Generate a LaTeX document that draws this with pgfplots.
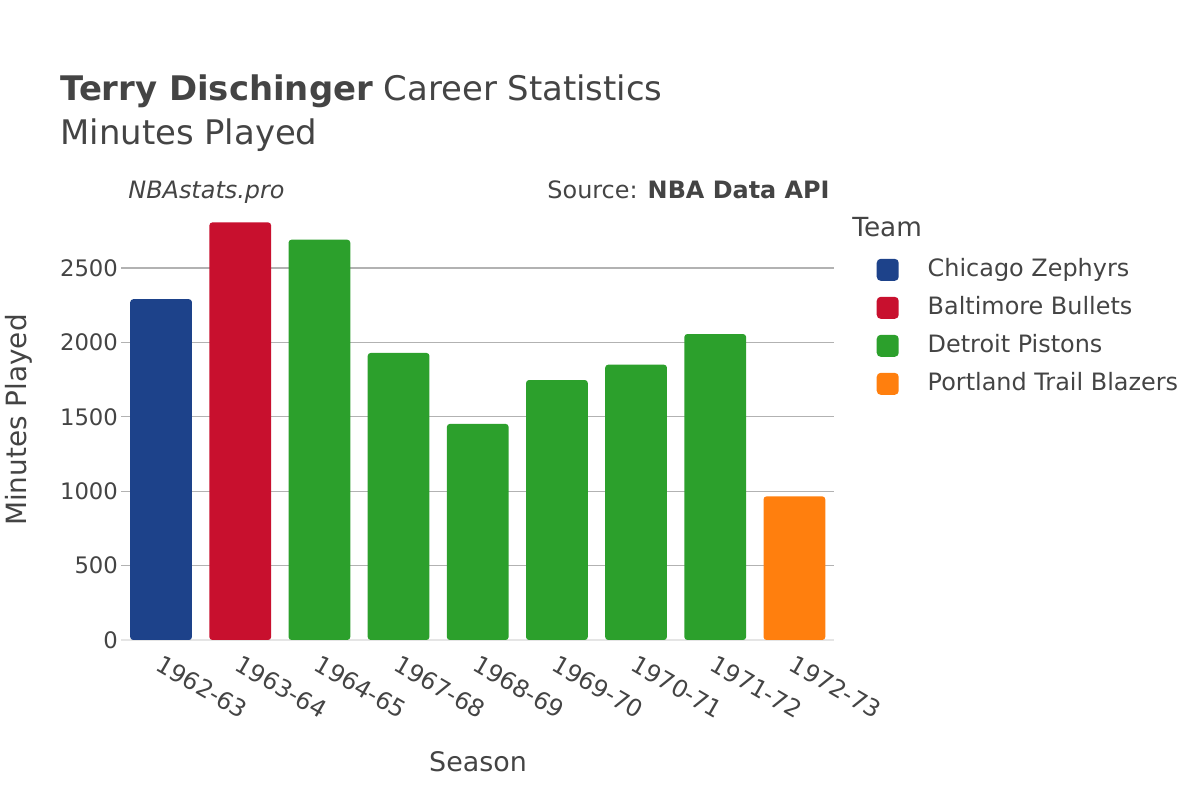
\documentclass[border=0pt]{standalone}
\usepackage{fontspec}
\setmainfont{DejaVu Sans}
\usepackage{pgfplots}
\pgfplotsset{compat=1.18}
\definecolor{txt}{HTML}{444444}
\definecolor{chi}{HTML}{1D428A}
\definecolor{bal}{HTML}{C8102E}
\definecolor{det}{HTML}{2CA02C}
\definecolor{por}{HTML}{FF7F0E}
\begin{document}
\begin{tikzpicture}
\path[use as bounding box] (0,0) rectangle (600bp,400bp);
\begin{axis}[
  at={(60.75bp,80bp)}, anchor=south west,
  scale only axis, width=356.25bp, height=219.2bp,
  xmin=-0.5, xmax=8.5, ymin=0, ymax=2946,
  ybar, bar width=0.78, bar shift=0pt,
  xtick={0,...,8},
  xticklabels={1962-63,1963-64,1964-65,1967-68,1968-69,1969-70,1970-71,1971-72,1972-73},
  ytick={500,1000,1500,2000,2500},
  extra y ticks={0},
  extra y tick style={grid style={color=black!10, line width=1.2bp}},
  ymajorgrids, grid style={color=black!30, line width=0.6bp},
  axis line style={draw=none},
  major tick length=0pt,
  scaled y ticks=false,
  /pgf/number format/1000 sep={},
  /pgf/number format/assume math mode=true,
  tick label style={font=\fontsize{11.4}{14}\selectfont, text=txt},
  yticklabel style={anchor=east, inner sep=0pt, xshift=-1.6bp},
  xticklabel style={font=\fontsize{12}{14}\selectfont, rotate=-30, anchor=north west, xshift=1bp, yshift=-2bp},
  legend cell align=left,
  legend image code/.code={\fill[#1, rounded corners=2bp] (0bp,-5.5bp) rectangle (11bp,5.5bp);},
  legend style={at={(1.06,0.874)}, anchor=north west, draw=none, fill=none,
    inner sep=0pt, outer sep=0pt,
    font=\fontsize{12}{14}\selectfont, text=txt, row sep=6bp,
    nodes={inner sep=0pt, text height=10bp, text depth=3bp},
    /tikz/every odd column/.style={column sep=14.5bp}},
]
\addplot[fill=chi, draw=none, rounded corners=1.5bp] coordinates {(0,2290)};
\addlegendentry{Chicago Zephyrs}
\addplot[fill=bal, draw=none, rounded corners=1.5bp] coordinates {(1,2806)};
\addlegendentry{Baltimore Bullets}
\addplot[fill=det, draw=none, rounded corners=1.5bp] coordinates {(2,2690) (3,1929) (4,1452) (5,1747) (6,1850) (7,2056)};
\addlegendentry{Detroit Pistons}
\addplot[fill=por, draw=none, rounded corners=1.5bp] coordinates {(8,965)};
\addlegendentry{Portland Trail Blazers}
\end{axis}
\node[anchor=base west, inner sep=0pt, text=txt, font=\fontsize{17}{20}\selectfont] at (30bp,349.5bp) {\textbf{Terry Dischinger} Career Statistics};
\node[anchor=base west, inner sep=0pt, text=txt, font=\fontsize{17}{20}\selectfont] at (30bp,327.5bp) {Minutes Played};
\node[anchor=base west, inner sep=0pt, text=txt, font=\fontsize{12}{14}\selectfont\itshape] at (64bp,300.5bp) {NBAstats.pro};
\node[anchor=base east, inner sep=0pt, text=txt, font=\fontsize{12}{14}\selectfont] at (415bp,300.5bp) {Source: \textbf{NBA Data API}};
\node[anchor=base west, inner sep=0pt, text=txt, font=\fontsize{13.2}{16}\selectfont] at (426bp,281.5bp) {Team};
\node[anchor=base, inner sep=0pt, text=txt, font=\fontsize{13.5}{16}\selectfont] at (239bp,14.5bp) {Season};
\node[anchor=base, inner sep=0pt, rotate=90, text=txt, font=\fontsize{14}{16}\selectfont] at (13bp,190bp) {Minutes Played};
\end{tikzpicture}
\end{document}
